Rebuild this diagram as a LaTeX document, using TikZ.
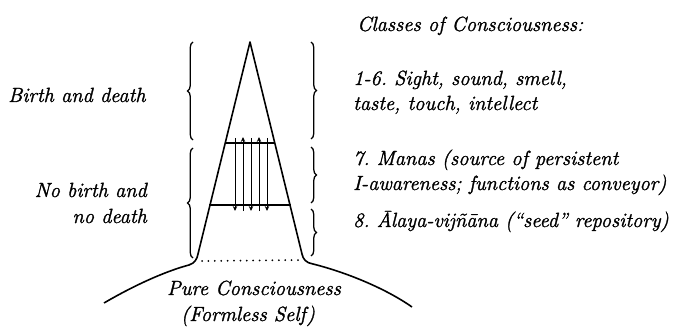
\documentclass[tikz,border=0pt]{standalone}
\usepackage{fontspec}
\setmainfont{Latin Modern Roman}[ItalicFeatures={FakeBold=1.4}]
\usetikzlibrary{decorations.pathreplacing,arrows.meta}
\frenchspacing
\begin{document}
\begin{tikzpicture}[x=1pt,y=-1pt,
  txt/.style={font=\fontsize{20.5}{24}\selectfont\itshape, inner sep=0pt},
  bracestyle/.style={decorate,decoration={brace,amplitude=5.5pt},line width=1.3pt},
  mainline/.style={line width=1.6pt,line join=round},
  crossline/.style={line width=1.2pt},
  arrline/.style={line width=1pt},
  uptip/.style={arrline,-{Stealth[length=5pt,width=4.5pt]}},
  downtip/.style={arrline,-{Stealth[length=5pt,width=4.5pt]}}]
\useasboundingbox (0,0) rectangle (698,331);

% triangle with dome
\coordinate (apex) at (250,42);
\coordinate (lb) at (198,254);
\coordinate (rb) at (302,254);
\draw[mainline] (104,303) .. controls (140,282) and (170,270) .. (189,265)
  .. controls (195,263) and (197,259) .. (lb) -- (apex) -- (rb)
  .. controls (303,259) and (306,263) .. (313,264)
  .. controls (345,272) and (385,288) .. (412,307);

% cross lines
\coordinate (t1) at (224.8,143);
\coordinate (t2) at (275.2,143);
\coordinate (b1) at (209.4,205);
\coordinate (b2) at (290.6,205);
\draw[crossline] (t1) -- (t2);
\draw[crossline] (b1) -- (b2);

% dotted base
\coordinate (d1) at (202,261);
\coordinate (d2) at (304,260);
\draw[line width=2pt,line cap=round,dash pattern=on 0pt off 6.4pt] (d1) -- (d2);

% vertical arrows
\foreach \x/\n in {235/a,251/c,267/e}{
  \coordinate (\n1) at (\x,138); \coordinate (\n2) at (\x,211);
  \draw[downtip] (\n1) -- (\n2);}
\foreach \x/\n in {243/b,259/d}{
  \coordinate (\n1) at (\x,211); \coordinate (\n2) at (\x,137);
  \draw[uptip] (\n1) -- (\n2);}

% left braces
\coordinate (L1a) at (193,140); \coordinate (L1b) at (193,42);
\coordinate (L2a) at (193,258); \coordinate (L2b) at (193,148);
\draw[bracestyle] (L1a) -- (L1b);
\draw[bracestyle] (L2a) -- (L2b);
% right braces
\coordinate (R1a) at (311,42);  \coordinate (R1b) at (311,139);
\coordinate (R2a) at (311,147); \coordinate (R2b) at (311,203);
\coordinate (R3a) at (311,209); \coordinate (R3b) at (311,256);
\draw[bracestyle] (R1a) -- (R1b);
\draw[bracestyle] (R2a) -- (R2b);
\draw[bracestyle] (R3a) -- (R3b);

% texts
\node[txt,anchor=base west] (title) at (357,31) {Classes of Consciousness:};
\node[txt,anchor=base west] (c16a) at (353,85) {1-6. Sight, sound, smell,};
\node[txt,anchor=base west] (c16b) at (353,110) {taste, touch, intellect};
\node[txt,anchor=base west] (c7a) at (353,165) {7. Manas (source of persistent};
\node[txt,anchor=base west] (c7b) at (353,190) {I-awareness; functions as conveyor)};
\node[txt,anchor=base west] (c8) at (353,227) {8. Ālaya-vijñāna (``seed'' repository)};
\node[txt,anchor=base west] (bd) at (8,102) {Birth and death};
\node[txt,anchor=base east] (nb1) at (147,197) {No birth and};
\node[txt,anchor=base east] (nb2) at (147,223) {no death};
\node[txt,anchor=base] (pc1) at (254,295) {Pure Consciousness};
\node[txt,anchor=base] (pc2) at (248,321) {(Formless Self)};
\end{tikzpicture}
\end{document}
